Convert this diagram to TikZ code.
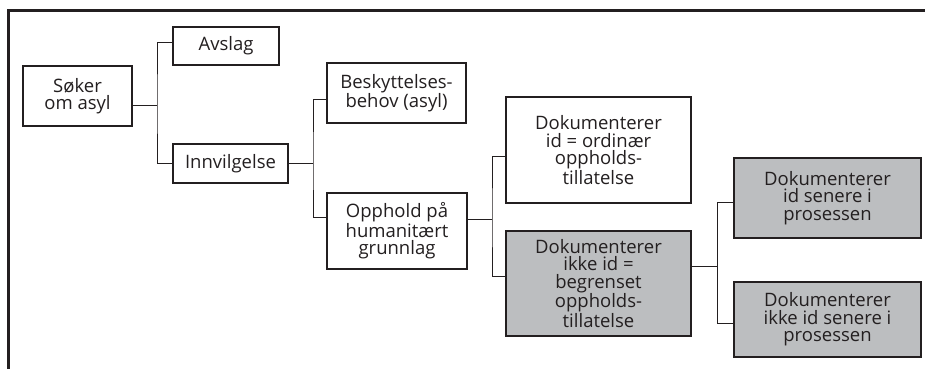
\documentclass[tikz,border=0pt]{standalone}
\usepackage{fontspec}
\setmainfont{Open Sans}
\usepackage{xcolor}
\usetikzlibrary{positioning}
\definecolor{ink}{RGB}{35,31,32}
\definecolor{boxgrey}{RGB}{188,190,192}
\tikzset{
	box/.style={draw=ink, line width=1.4pt, fill=white, text=ink, align=center, inner sep=0pt, outer sep=0pt, font=\fontsize{18.5}{17.5}\selectfont},
	greybox/.style={box, fill=boxgrey},
	link/.style={draw=ink, line width=1pt},
}

\begin{document}
\begin{tikzpicture}[x=1pt, y=-1pt]
				\useasboundingbox (0,0) rectangle (925,368);
				\clip (0,0) rectangle (925,368);
				\draw[ink, line width=3pt] (8.7,380) -- (8.7,10.5) -- (940,10.5);
		
				\node[box, minimum width=109pt, minimum height=60pt] (soker) at (77.5,96) {Søker\\om asyl};
				\node[box, minimum width=106pt, minimum height=38pt] (avslag) at (226,46) {Avslag};
				\node[box, minimum width=115pt, minimum height=39pt] (innv) at (230.5,163.5) {Innvilgelse};
				\node[box, minimum width=139pt, minimum height=60pt] (besk) at (396.5,93) {Beskyttelses-\\behov (asyl)};
				\node[box, minimum width=140pt, minimum height=76pt] (opph) at (397,231) {Opphold på\\humanitært\\grunnlag};
				\node[box, minimum width=185pt, minimum height=106pt] (dokid) at (598.5,150) {Dokumenterer\\id = ordinær\\oppholds-\\tillatelse};
				\node[greybox, minimum width=185pt, minimum height=105pt] (dokikke) at (598.5,283.5) {Dokumenterer\\ikke id =\\begrenset\\oppholds-\\tillatelse};
				\node[greybox, minimum width=187pt, minimum height=80pt] (senere) at (827.5,198) {Dokumenterer\\id senere i\\prosessen};
				\node[greybox, minimum width=187pt, minimum height=75pt] (ikkesen) at (827.5,319.5) {Dokumenterer\\ikke id senere i\\prosessen};
		
				% forks
				\coordinate (j1) at (157,105);
				\coordinate (j2) at (313,163.5);
				\coordinate (j3) at (492,219);
				\coordinate (j4) at (717.5,266);
		
				\draw[link] (soker.east |- j1) -- (j1);
				\draw[link] ([yshift=4pt]avslag.west) -| (j1) |- (innv.west);
				\draw[link] (innv.east) -- (j2);
				\draw[link] ([yshift=-6pt]besk.west) -| (j2) |- ([yshift=14pt]opph.west);
				\draw[link] (opph.east |- j3) -- (j3);
				\draw[link] ([yshift=-6pt]dokid.west) -| (j3) |- ([yshift=7.5pt]dokikke.west);
				\draw[link] (dokikke.east |- j4) -- (j4);
				\draw[link] ([yshift=-4pt]senere.west) -| (j4) |- ([yshift=-3.5pt]ikkesen.west);
			\end{tikzpicture}
\end{document}
